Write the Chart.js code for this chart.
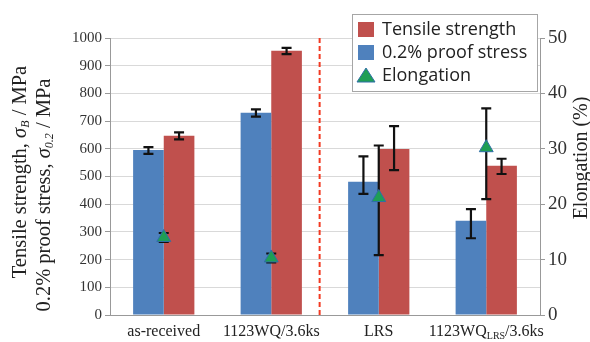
<!DOCTYPE html>
<html>
<head>
<meta charset="utf-8">
<script src="https://cdn.jsdelivr.net/npm/chart.js@4.4.0/dist/chart.umd.min.js"></script>
<style>
  html, body { margin: 0; padding: 0; background: #fff; }
  #wrap { width: 590px; height: 342px; position: relative; }
</style>
</head>
<body>
<div id="wrap"><canvas id="chart" width="590" height="342"></canvas></div>
<script>
// categories (last one has a subscript part)
const categories = ['as-received', '1123WQ/3.6ks', 'LRS', '1123WQ_LRS/3.6ks'];

// 0.2% proof stress (MPa)
const proofStress = [596, 730, 481, 340];
const proofErrUp = [10, 12, 92, 42];
const proofErrDown = [14, 14, 44, 63];

// tensile strength (MPa)
const tensileStrength = [647, 954, 599, 539];
const tensileErrUp = [12, 10, 83, 25];
const tensileErrDown = [13, 12, 76, 30];

// elongation (%)
const elongation = [14.0, 10.3, 21.2, 30.2];
const elongErrUp = [0.8, 0.8, 9.4, 7.1];
const elongErrDown = [0.8, 0.8, 10.4, 9.3];

const stressTicks = { min: 0, max: 1000, step: 100 };
const elongTicks = { min: 0, max: 50, step: 10 };

const BLUE = '#4f81bd';
const RED = '#c0504d';
const GREEN = '#1f9e55';
const SERIF = '"Liberation Serif", "Times New Roman", serif';
const SANS = '"Open Sans", "Noto Sans", sans-serif';

function drawErr(ctx, x, yTop, yBot, cap) {
    ctx.beginPath();
    ctx.moveTo(x, yTop); ctx.lineTo(x, yBot);
    ctx.moveTo(x - cap, yTop); ctx.lineTo(x + cap, yTop);
    ctx.moveTo(x - cap, yBot); ctx.lineTo(x + cap, yBot);
    ctx.stroke();
}

// error bars for bars (after) and elongation (before the triangles)
const errorBars = {
    id: 'errorBars',
    afterDatasetDraw(chart, args) {
        if (args.index > 1) return;
        const ctx = chart.ctx;
        const y = chart.scales.y;
        const vals = args.index === 0 ? proofStress : tensileStrength;
        const up = args.index === 0 ? proofErrUp : tensileErrUp;
        const dn = args.index === 0 ? proofErrDown : tensileErrDown;
        ctx.save();
        ctx.strokeStyle = '#111';
        ctx.lineWidth = 2.2;
        args.meta.data.forEach((bar, i) => {
            drawErr(ctx, bar.x, y.getPixelForValue(vals[i] + up[i]), y.getPixelForValue(vals[i] - dn[i]), 5);
        });
        ctx.restore();
    },
    beforeDatasetDraw(chart, args) {
        if (args.index !== 2) return;
        const ctx = chart.ctx;
        const y1 = chart.scales.y1;
        ctx.save();
        ctx.strokeStyle = '#111';
        ctx.lineWidth = 2.2;
        args.meta.data.forEach((pt, i) => {
            drawErr(ctx, pt.x, y1.getPixelForValue(elongation[i] + elongErrUp[i]), y1.getPixelForValue(elongation[i] - elongErrDown[i]), 5);
        });
        ctx.restore();
    }
};

// custom labels, titles, separator and legend
const decorations = {
    id: 'decorations',
    beforeDatasetsDraw(chart) {
        const ctx = chart.ctx;
        const x = chart.scales.x;
        const area = chart.chartArea;
        // dashed separator between the two groups
        const sx = x.getPixelForValue(1.45);
        ctx.save();
        ctx.strokeStyle = '#f23a22';
        ctx.lineWidth = 2;
        ctx.setLineDash([5, 3]);
        ctx.beginPath();
        ctx.moveTo(sx, area.top);
        ctx.lineTo(sx, area.bottom);
        ctx.stroke();
        ctx.restore();
    },
    afterDraw(chart) {
        const ctx = chart.ctx;
        const x = chart.scales.x;
        ctx.save();
        ctx.fillStyle = '#222';
        ctx.textBaseline = 'middle';

        // category labels
        const lf = '16px ' + SERIF, lfs = '10px ' + SERIF;
        categories.forEach((c, i) => {
            const cx = x.getPixelForValue(i);
            const parts = c.split('_');
            if (parts.length === 1) {
                ctx.font = lf;
                ctx.textAlign = 'center';
                ctx.fillText(c, cx, 332);
            } else {
                const rest = parts[1].split('/');
                const a = parts[0], sub = rest[0], b = '/' + rest.slice(1).join('/');
                ctx.font = lf;
                const wa = ctx.measureText(a).width, wb = ctx.measureText(b).width;
                ctx.font = lfs;
                const ws = ctx.measureText(sub).width;
                let px = cx - (wa + ws + wb) / 2;
                ctx.textAlign = 'left';
                ctx.font = lf;
                ctx.fillText(a, px, 332); px += wa;
                ctx.font = lfs;
                ctx.fillText(sub, px, 336); px += ws;
                ctx.font = lf;
                ctx.fillText(b, px, 332);
            }
        });

        // rotated left title (two lines with subscripts)
        const drawRot = (pieces, cx, cy) => {
            const widths = pieces.map(p => { ctx.font = p.font; return ctx.measureText(p.t).width; });
            const total = widths.reduce((s, w) => s + w, 0);
            ctx.save();
            ctx.translate(cx, cy);
            ctx.rotate(-Math.PI / 2);
            ctx.textAlign = 'left';
            let px = -total / 2;
            pieces.forEach((p, i) => {
                ctx.font = p.font;
                ctx.fillText(p.t, px, p.dy || 0);
                px += widths[i];
            });
            ctx.restore();
        };
        const f = '20.5px ' + SERIF, fi = 'italic 20.5px ' + SERIF, fs = 'italic 12px ' + SERIF;
        drawRot([
            { t: 'Tensile strength, ', font: f },
            { t: 'σ', font: fi },
            { t: 'B', font: fs, dy: 5 },
            { t: ' / MPa', font: f }
        ], 21, 172);
        drawRot([
            { t: '0.2% proof stress, ', font: f },
            { t: 'σ', font: fi },
            { t: '0.2', font: fs, dy: 5 },
            { t: ' / MPa', font: f }
        ], 45, 195);
        drawRot([{ t: 'Elongation (%)', font: '20px ' + SERIF }], 582, 158);

        // legend box
        ctx.fillStyle = '#fff';
        ctx.fillRect(352, 14, 185, 77);
        ctx.strokeStyle = '#a6a6a6';
        ctx.lineWidth = 1;
        ctx.strokeRect(352.5, 14.5, 185, 77);
        ctx.fillStyle = RED;
        ctx.fillRect(358, 22, 16, 15);
        ctx.fillStyle = BLUE;
        ctx.fillRect(358, 45, 16, 15);
        ctx.fillStyle = GREEN;
        ctx.strokeStyle = '#2f6fa8';
        ctx.beginPath();
        ctx.moveTo(366, 68); ctx.lineTo(375, 82); ctx.lineTo(357, 82); ctx.closePath();
        ctx.fill(); ctx.stroke();
        ctx.fillStyle = '#222';
        ctx.font = '18px ' + SANS;
        ctx.textAlign = 'left';
        ctx.fillText('Tensile strength', 382, 30);
        ctx.fillText('0.2% proof stress', 382, 53);
        ctx.fillText('Elongation', 382, 76);
        ctx.restore();
    }
};

new Chart(document.getElementById('chart'), {
    type: 'bar',
    data: {
        labels: categories,
        datasets: [
            { label: '0.2% proof stress', data: proofStress, backgroundColor: BLUE, yAxisID: 'y', order: 1 },
            { label: 'Tensile strength', data: tensileStrength, backgroundColor: RED, yAxisID: 'y', order: 2 },
            {
                type: 'line', label: 'Elongation', data: elongation, yAxisID: 'y1', order: 0,
                showLine: false, pointStyle: 'triangle', pointRadius: 8,
                backgroundColor: GREEN, borderColor: '#2f6fa8', borderWidth: 1
            }
        ]
    },
    options: {
        responsive: false,
        animation: false,
        devicePixelRatio: 1,
        layout: { padding: { top: 38 } },
        datasets: { bar: { barPercentage: 1, categoryPercentage: 0.57 } },
        plugins: { legend: { display: false }, tooltip: { enabled: false } },
        scales: {
            x: {
                grid: { display: false },
                border: { display: true, color: '#999' },
                ticks: { display: false },
                afterFit: s => { s.height = 27; }
            },
            y: {
                position: 'left',
                min: stressTicks.min, max: stressTicks.max,
                ticks: { stepSize: stressTicks.step, callback: v => String(v), font: { family: SERIF, size: 15 }, color: '#333', padding: 3 },
                grid: { color: '#d9d9d9', tickLength: 5, tickColor: '#999' },
                border: { color: '#999' },
                afterFit: s => { s.width = 110; }
            },
            y1: {
                position: 'right',
                min: elongTicks.min, max: elongTicks.max,
                ticks: { stepSize: elongTicks.step, callback: v => String(v), font: { family: SERIF, size: 19 }, color: '#333', padding: 3 },
                grid: { drawOnChartArea: false, tickLength: 5, color: '#999' },
                border: { color: '#999' },
                afterFit: s => { s.width = 50; }
            }
        }
    },
    plugins: [errorBars, decorations]
});
</script>
</body>
</html>
